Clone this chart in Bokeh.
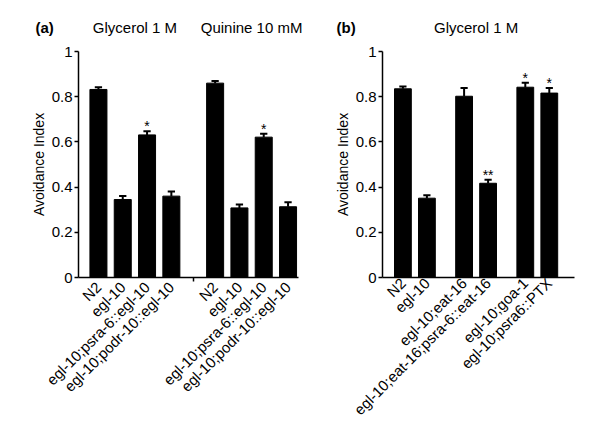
import math
from bokeh.plotting import figure
from bokeh.layouts import row, column
from bokeh.models import (ColumnDataSource, Range1d, FixedTicker, NumeralTickFormatter, Label)
from bokeh.core.properties import value
from bokeh.embed import file_html
from bokeh.resources import INLINE

FONT = "Liberation Sans"

# ---------------- data ----------------
a_labels = ["N2", "egl-10", "egl-10;psra-6::egl-10", "egl-10;podr-10::egl-10",
            "N2", "egl-10", "egl-10;psra-6::egl-10", "egl-10;podr-10::egl-10"]
a_groups = [4, 4]
a_titles = ["Glycerol 1 M", "Quinine 10 mM"]
a_values = [0.832, 0.345, 0.631, 0.360, 0.860, 0.308, 0.621, 0.313]
a_errors = [0.010, 0.016, 0.016, 0.020, 0.009, 0.015, 0.015, 0.020]
a_marks = ["", "", "*", "", "", "", "*", ""]

b_labels = ["N2", "egl-10", "egl-10;eat-16", "egl-10;eat-16;psra-6::eat-16",
            "egl-10;goa-1", "egl-10;psra6::PTX"]
b_groups = [2, 2, 2]
b_titles = ["Glycerol 1 M"]
b_values = [0.835, 0.351, 0.802, 0.417, 0.842, 0.816]
b_errors = [0.010, 0.013, 0.037, 0.015, 0.020, 0.023]
b_marks = ["", "", "", "**", "*", "*"]

y_ticks = [0, 0.2, 0.4, 0.6, 0.8, 1]

STRIP_H = 38
PANEL_H = 396
TOP_B = 13
BOTTOM_B = PANEL_H - TOP_B - 226
TOTAL_W = 598


def positions(groups, gap):
    xs = []
    pos = 0.0
    for n in groups:
        for _ in range(n):
            xs.append(pos)
            pos += 1
        pos += gap
    return xs


def panel(labels, groups, gap, values, errors, marks,
          x_start, x_end, width, border_left, border_right, gap_ticks):
    xs = positions(groups, gap)
    p = figure(width=width, height=PANEL_H, output_backend="svg", toolbar_location=None,
               x_range=Range1d(x_start, x_end), y_range=Range1d(0, 1),
               min_border_left=border_left, min_border_right=border_right,
               min_border_top=TOP_B, min_border_bottom=BOTTOM_B)
    p.outline_line_color = None
    p.grid.visible = False

    tops = [v + e for v, e in zip(values, errors)]
    src = ColumnDataSource(dict(x=xs, v=values, top=tops, mark=marks,
                                c0=[x - 0.15 for x in xs], c1=[x + 0.15 for x in xs]))
    p.vbar(x="x", top="v", bottom=0, width=0.7, source=src,
           fill_color="black", line_color="black")
    p.segment(x0="x", y0="v", x1="x", y1="top", source=src, line_color="black", line_width=2)
    p.segment(x0="c0", y0="top", x1="c1", y1="top", source=src, line_color="black", line_width=2)
    p.text(x="x", y="top", text="mark", source=src, text_align="center",
           text_baseline="alphabetic", y_offset=-5, text_font=value(FONT),
           text_font_size="14px", text_color="black")

    # y axis
    ya = p.yaxis[0]
    ya.ticker = FixedTicker(ticks=y_ticks)
    ya.formatter = NumeralTickFormatter(format="0.[0]")
    ya.minor_tick_line_color = None
    ya.major_tick_in = 0
    ya.major_tick_out = 4
    ya.major_label_standoff = 2
    ya.axis_line_width = 1.5
    ya.major_tick_line_width = 1.5
    ya.axis_line_color = "black"
    ya.major_tick_line_color = "black"
    ya.major_label_text_font = FONT
    ya.major_label_text_font_size = "15px"
    ya.major_label_text_color = "black"
    ya.axis_label = "Avoidance Index"
    ya.axis_label_text_font = FONT
    ya.axis_label_text_font_size = "14px"
    ya.axis_label_text_font_style = "normal"
    ya.axis_label_text_color = "black"
    ya.axis_label_standoff = 2

    # x axis with rotated category labels
    xa = p.xaxis[0]
    xa.ticker = FixedTicker(ticks=xs, minor_ticks=gap_ticks)
    xa.major_label_overrides = {x: lab for x, lab in zip(xs, labels)}
    xa.major_label_orientation = math.pi / 4
    xa.major_label_standoff = 3
    xa.major_label_text_font = FONT
    xa.major_label_text_font_size = "15px"
    xa.major_label_text_color = "black"
    xa.major_tick_in = 0
    xa.major_tick_out = 0
    xa.minor_tick_in = 0
    xa.minor_tick_out = 4
    xa.minor_tick_line_width = 1.5
    xa.minor_tick_line_color = "black"
    xa.axis_line_width = 1.5
    xa.axis_line_color = "black"

    frame_w = width - border_left - border_right
    pxu = frame_w / (x_end - x_start)
    return p, xs, pxu


# panel geometry
A_W, A_BL, A_BR, A_X0, A_X1 = 300, 78, 2, -0.82, 8.23
B_W, B_BL, B_BR, B_X0, B_X1 = 298, 82, 24, -0.85, 7.15

xs_a0 = positions(a_groups, 0.8)
gap_tick_a = [(xs_a0[3] + xs_a0[4]) / 2]
pa, xs_a, pxu_a = panel(a_labels, a_groups, 0.8, a_values, a_errors, a_marks,
                        A_X0, A_X1, A_W, A_BL, A_BR, gap_tick_a)
pb, xs_b, pxu_b = panel(b_labels, b_groups, 0.55, b_values, b_errors, b_marks,
                        B_X0, B_X1, B_W, B_BL, B_BR, [])

# title strip spanning both panels, in page pixels
strip = figure(width=TOTAL_W, height=STRIP_H, output_backend="svg", toolbar_location=None,
               x_range=Range1d(0, TOTAL_W), y_range=Range1d(0, STRIP_H),
               min_border=0, min_border_left=0, min_border_right=0,
               min_border_top=0, min_border_bottom=0)
strip.axis.visible = False
strip.grid.visible = False
strip.outline_line_color = None
TY = STRIP_H - 27


def to_px(x, offset, bl, x0, pxu):
    return offset + bl + (x - x0) * pxu


def add_titles(titles, spans, xs, offset, bl, x0, pxu, tag, tag_px):
    for t, (i0, i1) in zip(titles, spans):
        cx = to_px((xs[i0] + xs[i1]) / 2, offset, bl, x0, pxu)
        strip.add_layout(Label(x=cx, y=TY, text=t, text_align="center", text_baseline="middle",
                               text_font=FONT, text_font_size="15px", text_color="black"))
    strip.add_layout(Label(x=offset + tag_px, y=TY, text=tag, text_align="left",
                           text_baseline="middle", text_font=FONT, text_font_size="15px",
                           text_font_style="bold", text_color="black"))


add_titles(a_titles, [(0, 3), (4, 7)], xs_a, 0, A_BL, A_X0, pxu_a, "(a)", 35)
add_titles(b_titles, [(0, 5)], xs_b, A_W, B_BL, B_X0, pxu_b, "(b)", 36)

layout = column(strip, row(pa, pb))
open("out.html", "w").write(file_html(layout, INLINE))
